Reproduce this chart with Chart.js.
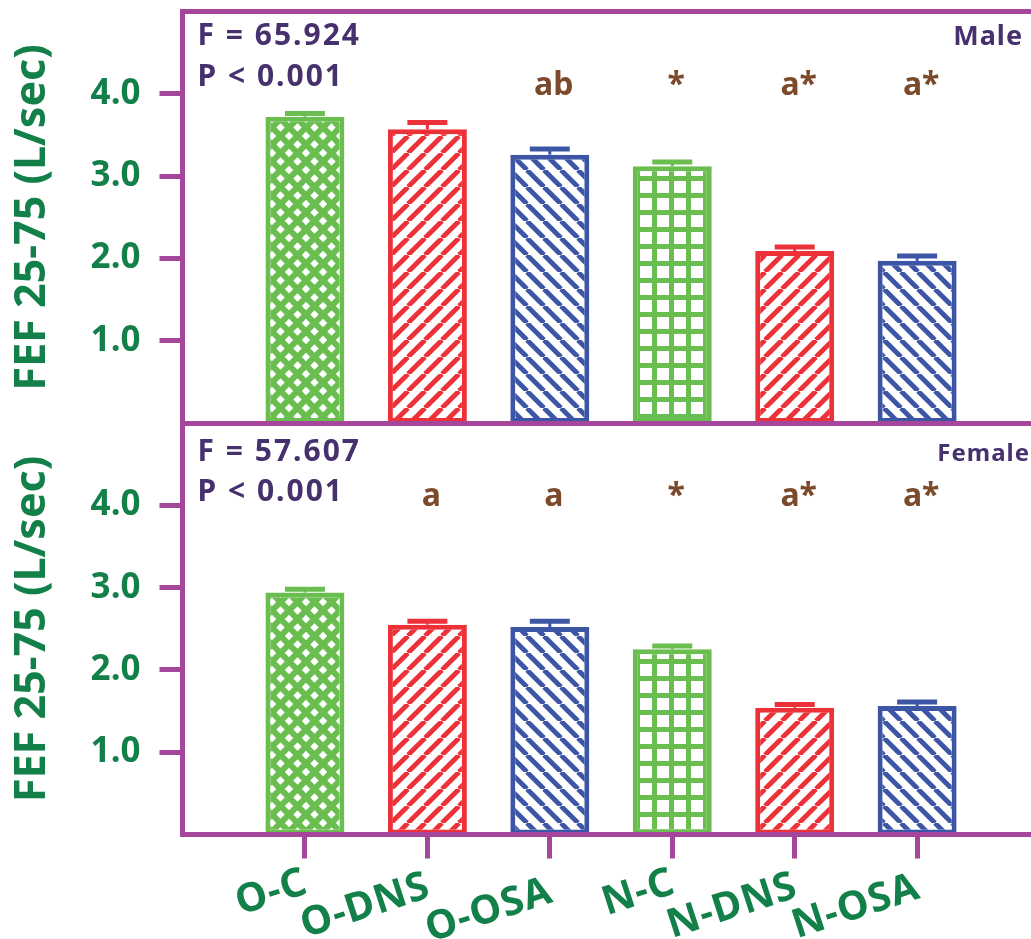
<!DOCTYPE html>
<html>
<head>
<meta charset="utf-8">
<script src="https://cdn.jsdelivr.net/npm/chart.js@4.4.1/dist/chart.umd.min.js"></script>
<style>
  body { margin: 0; background: #fff; overflow: hidden; }
  #wrap { position: relative; width: 1031px; height: 939px; }
  #male { position: absolute; left: 0; top: 0; }
  #female { position: absolute; left: 0; top: 415px; }
</style>
</head>
<body>
<div id="wrap">
  <canvas id="male" width="1031" height="430"></canvas>
  <canvas id="female" width="1031" height="524"></canvas>
</div>
<script>
// values (L/sec)
const categories = ['O-C', 'O-DNS', 'O-OSA', 'N-C', 'N-DNS', 'N-OSA'];
const maleMeans = [3.72, 3.57, 3.26, 3.12, 2.09, 1.97];
const maleErrors = [0.04, 0.08, 0.07, 0.05, 0.05, 0.06];
const femaleMeans = [2.94, 2.55, 2.52, 2.25, 1.54, 1.56];
const femaleErrors = [0.04, 0.04, 0.07, 0.04, 0.04, 0.05];
const maleLetters = ['', '', 'ab', '*', 'a*', 'a*'];
const femaleLetters = ['', 'a', 'a', '*', 'a*', 'a*'];
const maleStats = ['F = 65.924', 'P < 0.001'];
const femaleStats = ['F = 57.607', 'P < 0.001'];
const yTicks = [1, 2, 3, 4];

const PURPLE = '#a4479b';
const GREEN_TXT = '#13804a';
const INK = '#46316e';
const BROWN = '#7b4a2b';
const GREEN = '#6abe50', RED = '#ec3238', BLUE = '#3c56a5';
const barColors = [GREEN, RED, BLUE, GREEN, RED, BLUE];
const barHatch = ['cross', 'fwd', 'back', 'grid', 'fwd', 'back'];
const FONT = '"Comic Sans MS", "Noto Sans", sans-serif';

function makePattern(kind, color) {
  const s = 17;
  const c = document.createElement('canvas');
  c.width = s; c.height = s;
  const g = c.getContext('2d');
  g.fillStyle = '#fff';
  g.fillRect(0, 0, s, s);
  g.strokeStyle = color;
  g.fillStyle = color;
  if (kind === 'cross') {
    g.fillRect(0, 0, s, s);
    g.fillStyle = '#fff';
    const d = 4.2;
    [[0, 0], [s, 0], [0, s], [s, s], [s / 2, s / 2]].forEach(([x, y]) => {
      g.beginPath();
      g.moveTo(x - d, y); g.lineTo(x, y - d); g.lineTo(x + d, y); g.lineTo(x, y + d);
      g.closePath(); g.fill();
    });
  } else if (kind === 'grid') {
    g.lineWidth = 5;
    g.beginPath();
    g.moveTo(s / 2, 0); g.lineTo(s / 2, s);
    g.moveTo(0, s / 2); g.lineTo(s, s / 2);
    g.stroke();
  } else {
    g.lineWidth = 4.8;
    g.beginPath();
    for (const k of [-s, 0, s]) {
      if (kind === 'fwd') { g.moveTo(k, s); g.lineTo(k + s, 0); }
      else { g.moveTo(k, 0); g.lineTo(k + s, s); }
    }
    g.stroke();
  }
  return g.createPattern(c, 'repeat');
}

const extras = {
  id: 'extras',
  afterDatasetsDraw(chart, args, o) {
    const ctx = chart.ctx;
    const y = chart.scales.y;
    const ds = chart.data.datasets[0];
    ctx.save();
    chart.getDatasetMeta(0).data.forEach((bar, i) => {
      const top = y.getPixelForValue(ds.data[i].y + o.errors[i]);
      ctx.strokeStyle = barColors[i];
      ctx.lineWidth = 3;
      ctx.beginPath(); ctx.moveTo(bar.x, bar.y); ctx.lineTo(bar.x, top); ctx.stroke();
      ctx.lineWidth = 5;
      ctx.beginPath(); ctx.moveTo(bar.x - 20, top); ctx.lineTo(bar.x + 20, top); ctx.stroke();
    });
    ctx.restore();
  },
  afterDraw(chart, args, o) {
    const ctx = chart.ctx;
    const area = chart.chartArea;
    const x = chart.scales.x, y = chart.scales.y;
    ctx.save();
    if (o.topLine) {
      ctx.strokeStyle = PURPLE;
      ctx.lineWidth = 5;
      ctx.beginPath(); ctx.moveTo(area.left - 2.5, area.top); ctx.lineTo(chart.width, area.top); ctx.stroke();
    }
    // F / P values
    ctx.fillStyle = INK;
    ctx.textBaseline = 'alphabetic';
    ctx.textAlign = 'left';
    ctx.letterSpacing = '2px';
    ctx.font = 'bold 30px ' + FONT;
    ctx.fillText(o.stats[0], area.left + 15, area.top + o.statY[0]);
    ctx.fillText(o.stats[1], area.left + 15, area.top + o.statY[1]);
    ctx.letterSpacing = '1px';
    ctx.textAlign = 'right';
    ctx.font = 'bold ' + o.sexSize + 'px ' + FONT;
    ctx.fillText(o.sex, o.sexX, area.top + o.statY[0]);
    // significance letters
    ctx.letterSpacing = '0px';
    ctx.fillStyle = BROWN;
    ctx.textAlign = 'center';
    ctx.font = 'bold 32px ' + FONT;
    o.letters.forEach((t, i) => {
      if (t) ctx.fillText(t, x.getPixelForValue(i + 1) + 4, y.getPixelForValue(3.99));
    });
    // category labels
    if (o.xLabels) {
      const stagger = [0, 4, 9, 0, 4, 5];
      ctx.fillStyle = GREEN_TXT;
      ctx.font = 'bold 40px ' + FONT;
      ctx.letterSpacing = '1px';
      ctx.textAlign = 'right';
      categories.forEach((c, i) => {
        ctx.save();
        ctx.translate(x.getPixelForValue(i + 1) + 5, area.bottom + 58 + stagger[i]);
        ctx.rotate(-18 * Math.PI / 180);
        ctx.fillText(c, 0, 0);
        ctx.restore();
      });
    }
    ctx.restore();
  }
};

function makeChart(id, means, errors, letters, stats, sex, bottom) {
  const padTop = bottom ? 8 : 11.5;
  return new Chart(document.getElementById(id), {
    type: 'bar',
    data: {
      datasets: [{
        data: categories.map((c, i) => ({ x: i + 1, y: means[i] })),
        backgroundColor: barHatch.map((k, i) => makePattern(k, barColors[i])),
        borderColor: barColors,
        borderWidth: 5,
        borderSkipped: false,
        categoryPercentage: 1,
        barPercentage: 0.645
      }]
    },
    options: {
      responsive: false,
      animation: false,
      layout: { padding: { left: 0, right: 0, top: padTop, bottom: bottom ? 0 : 7 } },
      plugins: {
        legend: { display: false },
        tooltip: { enabled: false },
        extras: {
          errors, letters, stats, sex,
          statY: bottom ? [38, 78] : [33.5, 74.5],
          sexX: bottom ? 1030 : 1023,
          sexSize: bottom ? 24 : 27,
          topLine: !bottom,
          xLabels: bottom
        }
      },
      scales: {
        x: {
          type: 'linear',
          min: 0,
          max: 6.93,
          offset: false,
          afterBuildTicks: s => { s.ticks = categories.map((c, i) => ({ value: i + 1 })); },
          afterFit: s => {
            s.height = bottom ? 104.5 : 0;
            s.paddingLeft = s.paddingRight = 0;
          },
          ticks: { display: false },
          grid: {
            display: bottom,
            offset: false,
            drawOnChartArea: false,
            drawTicks: true,
            tickLength: 24,
            tickWidth: 5,
            tickColor: PURPLE
          },
          border: { display: true, color: PURPLE, width: 5, z: 1 }
        },
        y: {
          min: 0,
          max: 5,
          afterBuildTicks: s => { s.ticks = yTicks.map(v => ({ value: v })); },
          afterFit: s => {
            s.width = 182.5;
            s.paddingTop = s.paddingBottom = 0;
          },
          ticks: {
            color: GREEN_TXT,
            padding: 19,
            font: { family: FONT, size: 35, weight: 'bold' },
            callback: v => v.toFixed(1)
          },
          grid: {
            drawOnChartArea: false,
            drawTicks: true,
            tickLength: 23,
            tickWidth: 5,
            tickColor: PURPLE
          },
          border: { display: true, color: PURPLE, width: 5, z: 1 },
          title: {
            display: true,
            text: 'FEF 25-75 (L/sec)',
            color: GREEN_TXT,
            font: { family: FONT, size: 43, weight: 'bold' },
            padding: { top: 7, bottom: 0 }
          }
        }
      }
    },
    plugins: [extras]
  });
}

makeChart('male', maleMeans, maleErrors, maleLetters, maleStats, 'Male', false);
makeChart('female', femaleMeans, femaleErrors, femaleLetters, femaleStats, 'Female', true);
</script>
</body>
</html>
